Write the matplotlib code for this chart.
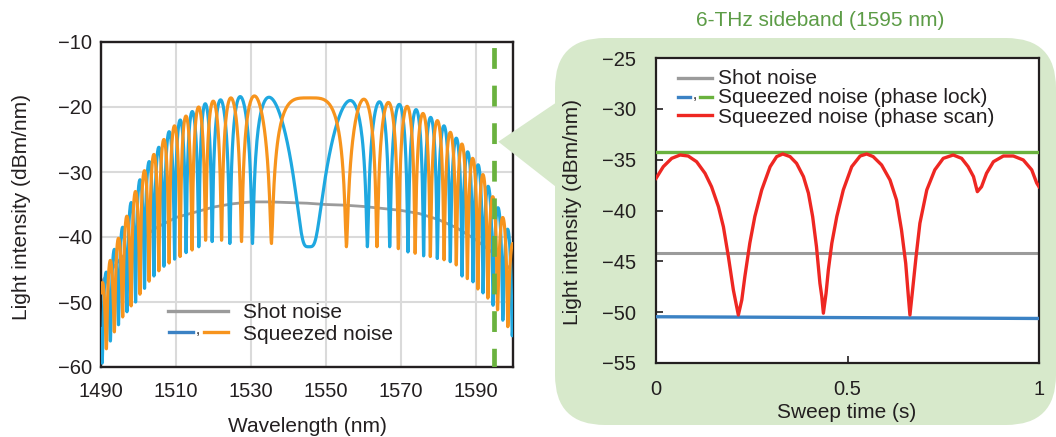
import numpy as np
import matplotlib
matplotlib.use("Agg")
import matplotlib.pyplot as plt
from matplotlib.patches import FancyBboxPatch, Polygon
from matplotlib.lines import Line2D

plt.rcParams['font.family'] = ['Liberation Sans', 'DejaVu Sans']
plt.rcParams['axes.unicode_minus'] = True

# ---------------- data ----------------
# left panel: wavelength axis
wl_ticks = [1490, 1510, 1530, 1550, 1570, 1590]
left_yticks = [-10, -20, -30, -40, -50, -60]
lam_center = 1545.5          # centre of the fringe pattern (nm)
sideband_nm = 1595

# shot noise spectrum
shot_wl = [1490, 1495, 1500, 1505, 1510, 1515, 1520, 1525, 1530, 1535, 1540,
           1545, 1550, 1555, 1560, 1565, 1570, 1575, 1580, 1585, 1590, 1595, 1600]
shot_db = [-47.0, -43.5, -40.5, -38.5, -37.0, -36.2, -35.4, -34.9, -34.6, -34.6, -34.7,
           -34.8, -35.0, -35.1, -35.3, -35.6, -35.9, -36.4, -37.3, -38.6, -40.4, -42.6, -45.3]

# squeezed noise (orange): fringe minima positions / levels and lobe maxima
orange_nodes_nm = [1489.36, 1491.44, 1493.57, 1495.79, 1498.05, 1500.40, 1502.85,
                   1505.44, 1508.19, 1511.12, 1514.32, 1517.92, 1522.19, 1527.52,
                   1535.52, 1555.52, 1563.68, 1569.39, 1573.87, 1577.92, 1581.60,
                   1584.85, 1587.81, 1590.61, 1593.28, 1595.87, 1598.61, 1601.20]
orange_node_db = [-61.0, -57.2, -54.6, -52.3, -50.6, -48.8, -46.8, -45.2, -44.0, -43.0,
                  -42.0, -40.5, -40.5, -40.7, -41.0, -41.5, -41.5, -41.8, -42.5, -43.0,
                  -43.5, -44.3, -46.4, -48.0, -49.4, -51.2, -53.8, -56.0]
orange_peak_db = [-47.0, -43.6, -40.2, -36.8, -33.0, -29.8, -27.3, -25.0, -22.9, -21.4,
                  -20.0, -19.1, -18.6, -18.3, -18.6, -18.8, -19.3, -19.9, -21.0, -22.1,
                  -23.9, -25.7, -27.9, -30.4, -33.8, -37.0, -41.0]

# squeezed noise (blue)
blue_nodes_nm = [1488.13, 1490.32, 1492.51, 1494.67, 1496.93, 1499.23, 1501.63, 1504.13,
                 1506.80, 1509.65, 1512.72, 1516.11, 1519.68, 1524.40, 1530.45, 1545.52,
                 1561.12, 1567.07, 1571.95, 1576.13, 1579.79, 1583.25, 1586.40, 1589.33,
                 1592.00, 1594.67, 1597.28, 1599.79, 1602.27]
blue_node_db = [-62.0, -59.4, -56.0, -53.5, -51.5, -50.0, -47.9, -46.0, -44.5, -43.4,
                -42.4, -41.5, -40.7, -41.0, -41.0, -41.5, -41.5, -41.5, -42.3, -42.9,
                -43.3, -43.8, -46.0, -46.9, -48.6, -50.5, -52.8, -55.2, -57.0]
blue_peak_db = [-48.5, -45.4, -41.9, -38.5, -34.7, -31.2, -28.4, -26.2, -23.8, -22.0,
                -20.7, -19.5, -18.9, -18.4, -18.5, -19.0, -19.2, -19.6, -20.4, -21.6,
                -22.9, -24.8, -26.9, -28.9, -32.2, -35.5, -38.8, -43.0]

# right panel: 6-THz sideband vs sweep time
time_ticks = [0, 0.5, 1]
right_yticks = [-25, -30, -35, -40, -45, -50, -55]
shot_t = [0.0, 1.0]
shot_lock_db = [-44.15, -44.15]
lock_t = [0.0, 1.0]
lock_anti_db = [-34.2, -34.2]     # green
lock_sq_db = [-50.45, -50.62]     # blue
scan_t = [0.000, 0.019, 0.041, 0.063, 0.084, 0.106, 0.128, 0.145, 0.163, 0.176, 0.189,
          0.202, 0.215, 0.224, 0.232, 0.245, 0.258, 0.276, 0.298, 0.315, 0.331, 0.350,
          0.367, 0.385, 0.398, 0.409, 0.419, 0.428, 0.433, 0.437, 0.444, 0.450, 0.459,
          0.472, 0.489, 0.511, 0.533, 0.550, 0.567, 0.589, 0.611, 0.628, 0.641, 0.652,
          0.659, 0.663, 0.670, 0.679, 0.689, 0.707, 0.728, 0.750, 0.776, 0.798, 0.815,
          0.829, 0.839, 0.850, 0.863, 0.881, 0.907, 0.933, 0.959, 0.981, 0.994, 1.000]
scan_db = [-36.84, -35.69, -34.87, -34.54, -34.64, -35.20, -36.34, -37.66, -39.62, -41.60,
           -44.54, -47.82, -50.28, -48.80, -46.50, -43.20, -40.60, -37.98, -35.69, -34.70,
           -34.44, -34.70, -35.36, -36.67, -38.30, -40.60, -43.56, -47.16, -48.50, -50.10,
           -48.15, -45.85, -43.23, -40.60, -37.98, -35.69, -34.64, -34.44, -34.70, -35.52,
           -37.00, -38.97, -41.92, -45.20, -48.48, -50.28, -47.80, -44.54, -41.26, -37.98,
           -36.00, -34.87, -34.54, -34.87, -35.69, -36.67, -38.15, -37.66, -36.34, -35.20,
           -34.64, -34.64, -35.03, -36.00, -37.30, -37.66]

# ---------------- styles ----------------
C_TXT = '#231f20'
C_BLUE = '#1fa8e0'
C_ORANGE = '#f7941d'
C_GREY = '#9b9b9b'
C_GREEN = '#6ab23e'
C_LBLUE = '#3b82c4'
C_RED = '#ee2722'
C_BG = '#d7e9cb'
C_TITLE = '#5c9c46'
FS = 15
FT = 14.5


def fringe_line(nodes, node_db, peak_db, lam_c, n=90):
    """Draw lobes between successive minima; phase runs with (lam-lam_c)^2."""
    def s(l):
        return np.sign(l - lam_c) * (l - lam_c) ** 2
    xs, ys = [], []
    for i in range(len(nodes) - 1):
        a, b = nodes[i], nodes[i + 1]
        lam = np.linspace(a, b, n)
        u = (s(lam) - s(a)) / (s(b) - s(a))
        gmin = 10 ** ((node_db[i] * (1 - u) + node_db[i + 1] * u) / 10)
        gmax = 10 ** (peak_db[i] / 10)
        g = gmin + (gmax - gmin) * np.sin(np.pi * u) ** 2
        xs.append(lam)
        ys.append(10 * np.log10(g))
    return np.concatenate(xs), np.concatenate(ys)


W, H = 1056, 437
fig = plt.figure(figsize=(W / 100, H / 100), dpi=100)
T = fig.dpi_scale_trans


def P(x, y):
    return (x / 100, (H - y) / 100)


# green callout background
box = FancyBboxPatch(P(555, 425), (1056 - 555) / 100, (425 - 38) / 100,
                     boxstyle='round,pad=0,rounding_size=0.5', transform=T,
                     fc=C_BG, ec='none', zorder=-2)
fig.add_artist(box)
tri = Polygon([P(498.3, 141.7), P(560, 100), P(560, 190)], closed=True,
              transform=T, fc=C_BG, ec='none', zorder=5)
fig.add_artist(tri)

# ---------------- left panel ----------------
ax1 = fig.add_axes([101 / W, 1 - 367 / H, 412 / W, 325 / H])
ax1.set_xlim(1490, 1600)
ax1.set_ylim(-60, -10)
ax1.set_xticks(wl_ticks)
ax1.set_yticks(left_yticks)
ax1.grid(True, color='#dadada', lw=1.5, zorder=0)
ax1.set_axisbelow(True)
ax1.tick_params(axis='both', length=0, labelsize=FT, colors=C_TXT)
ax1.tick_params(axis='y', pad=6.5)
ax1.tick_params(axis='x', pad=11)
for sp in ax1.spines.values():
    sp.set_linewidth(1.7)
    sp.set_color(C_TXT)

ax1.plot(shot_wl, shot_db, color=C_GREY, lw=2.0, zorder=2)
bx, by = fringe_line(blue_nodes_nm, blue_node_db, blue_peak_db, lam_center)
ax1.plot(bx, by, color=C_BLUE, lw=2.3, zorder=3, solid_joinstyle='round')
ox, oy = fringe_line(orange_nodes_nm, orange_node_db, orange_peak_db, lam_center)
ax1.plot(ox, oy, color=C_ORANGE, lw=2.3, zorder=4, solid_joinstyle='round')
ax1.plot([sideband_nm, sideband_nm], [-10, -60], color=C_GREEN, lw=3.4,
         ls=(6.78, (4.4, 3.56)), zorder=6, solid_capstyle='butt', dash_capstyle='butt')

# left legend
fig.add_artist(Line2D([1.68, 2.28], [P(0, 311)[1]] * 2, transform=T, color=C_GREY, lw=2.4))
fig.add_artist(Line2D([1.69, 1.93], [P(0, 332)[1]] * 2, transform=T, color=C_LBLUE, lw=2.4))
fig.add_artist(Line2D([2.04, 2.28], [P(0, 332)[1]] * 2, transform=T, color=C_ORANGE, lw=2.4))
fig.text(*P(195.5, 334), ',', transform=T, fontsize=11, color=C_TXT, va='baseline')
fig.text(*P(243, 318.5), 'Shot noise', transform=T, fontsize=FS, color=C_TXT, va='baseline')
fig.text(*P(243, 340), 'Squeezed noise', transform=T, fontsize=FS, color=C_TXT, va='baseline')

fig.text(*P(22, 207), 'Light intensity (dBm/nm)', transform=T, fontsize=FS, color=C_TXT,
         rotation=90, ha='center', va='center')
fig.text(*P(307, 427), 'Wavelength (nm)', transform=T, fontsize=FS, color=C_TXT,
         ha='center', va='center')

# ---------------- right panel ----------------
ax2 = fig.add_axes([656 / W, 1 - 363 / H, 383 / W, 305 / H])
ax2.set_xlim(0, 1)
ax2.set_ylim(-55, -25)
ax2.set_xticks(time_ticks)
ax2.set_xticklabels(['0', '0.5', '1'])
ax2.set_yticks(right_yticks)
ax2.tick_params(axis='both', direction='in', length=5, width=1.2, labelsize=FT,
                colors=C_TXT, top=False, right=False)
ax2.tick_params(axis='y', pad=14.5)
ax2.tick_params(axis='x', pad=12.5)
for sp in ax2.spines.values():
    sp.set_linewidth(1.6)
    sp.set_color(C_TXT)

ax2.plot(shot_t, shot_lock_db, color=C_GREY, lw=2.2, zorder=2)
ax2.plot(lock_t, lock_sq_db, color=C_LBLUE, lw=2.4, zorder=3)
ax2.plot(lock_t, lock_anti_db, color=C_GREEN, lw=2.4, zorder=3)
ax2.plot(scan_t, scan_db, color=C_RED, lw=2.4, zorder=4, solid_joinstyle='round')

# right legend
fig.add_artist(Line2D([6.78, 7.12], [P(0, 77.7)[1]] * 2, transform=T, color=C_GREY, lw=2.4))
fig.add_artist(Line2D([6.78, 6.90], [P(0, 96.7)[1]] * 2, transform=T, color=C_LBLUE, lw=2.4))
fig.add_artist(Line2D([7.00, 7.12], [P(0, 96.7)[1]] * 2, transform=T, color=C_GREEN, lw=2.4))
fig.add_artist(Line2D([6.78, 7.12], [P(0, 115.3)[1]] * 2, transform=T, color=C_RED, lw=2.4))
fig.text(*P(692.5, 99), ',', transform=T, fontsize=11, color=C_TXT, va='baseline')
fig.text(*P(718, 84), 'Shot noise', transform=T, fontsize=FS, color=C_TXT, va='baseline')
fig.text(*P(718, 103), 'Squeezed noise (phase lock)', transform=T, fontsize=FS,
         color=C_TXT, va='baseline')
fig.text(*P(718, 123), 'Squeezed noise (phase scan)', transform=T, fontsize=FS,
         color=C_TXT, va='baseline')

fig.text(*P(573, 212), 'Light intensity (dBm/nm)', transform=T, fontsize=FS, color=C_TXT,
         rotation=90, ha='center', va='center')
fig.text(*P(847, 413), 'Sweep time (s)', transform=T, fontsize=FS, color=C_TXT,
         ha='center', va='center')
fig.text(*P(820, 20), '6-THz sideband (1595 nm)', transform=T, fontsize=FS,
         color=C_TITLE, ha='center', va='center')

fig.savefig('out.png', dpi=100)
